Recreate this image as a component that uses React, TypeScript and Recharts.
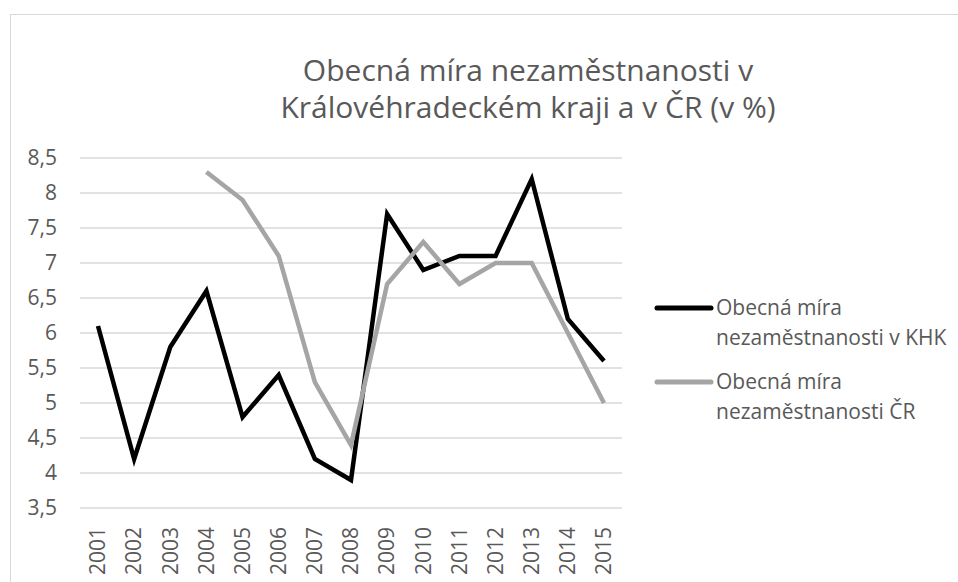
import { LineChart, Line, XAxis, YAxis, CartesianGrid, Legend } from "recharts";

const years = ["2001", "2002", "2003", "2004", "2005", "2006", "2007", "2008", "2009", "2010", "2011", "2012", "2013", "2014", "2015"];
const khk = [6.1, 4.2, 5.8, 6.6, 4.8, 5.4, 4.2, 3.9, 7.7, 6.9, 7.1, 7.1, 8.2, 6.2, 5.6];
const cr = [null, null, null, 8.3, 7.9, 7.1, 5.3, 4.4, 6.7, 7.3, 6.7, 7.0, 7.0, 6.0, 5.0];
const yTicks = [3.5, 4, 4.5, 5, 5.5, 6, 6.5, 7, 7.5, 8, 8.5];

const titleLines = ["Obecná míra nezaměstnanosti v", "Královéhradeckém kraji a v ČR (v %)"];
const seriesNames = ["Obecná míra nezaměstnanosti v KHK", "Obecná míra nezaměstnanosti ČR"];
const legendLines = [
  ["Obecná míra", "nezaměstnanosti v KHK"],
  ["Obecná míra", "nezaměstnanosti ČR"],
];
const colors = ["#000000", "#a5a5a5"];

const data = years.map((year, i) => ({ year, khk: khk[i], cr: cr[i] }));

const FONT = "'Open Sans', sans-serif";
const TEXT = "#595959";

function YearTick(props: any) {
  const { x, y, payload } = props;
  return (
    <text
      x={x}
      y={y}
      transform={`rotate(-90 ${x} ${y})`}
      textAnchor="end"
      dy="0.35em"
      fill={TEXT}
      fontSize={21}
      fontFamily={FONT}
    >
      {payload.value}
    </text>
  );
}

// legend drawn in a zero-height wrapper so it doesn't eat plot space
function LegendBox() {
  return (
    <svg width={300} height={150} style={{ overflow: "visible", position: "absolute", left: 0, top: 0 }}>
      {legendLines.map((lines, i) => (
        <g key={i}>
          <line x1={7} x2={61} y1={18 + i * 74} y2={18 + i * 74} stroke={colors[i]} strokeWidth={5} strokeLinecap="round" />
          {lines.map((t, j) => (
            <text key={j} x={66} y={18 + i * 74 + j * 30} dy="0.35em" fill={TEXT} fontSize={21} fontFamily={FONT}>
              {t}
            </text>
          ))}
        </g>
      ))}
    </svg>
  );
}

export default function App() {
  return (
    <div style={{ position: "absolute", left: 0, top: 0, width: 958, height: 582, background: "#fff", overflow: "hidden", fontFamily: FONT }}>
      <div style={{ position: "absolute", left: 10, top: 14, width: 980, height: 600, border: "1px solid #d9d9d9" }} />
      <svg width={958} height={140} style={{ position: "absolute", left: 0, top: 0 }}>
        {titleLines.map((t, i) => (
          <text key={i} x={528} y={70 + i * 37} dy="0.35em" textAnchor="middle" fill={TEXT} fontSize={30} fontFamily={FONT}>
            {t}
          </text>
        ))}
      </svg>
      <LineChart width={958} height={582} data={data} margin={{ top: 158, left: 0, right: 336, bottom: 0 }}>
        <CartesianGrid vertical={false} stroke="#d9d9d9" strokeWidth={1.3} />
        <XAxis
          dataKey="year"
          axisLine={false}
          tickLine={false}
          tickSize={0}
          tickMargin={19}
          tick={<YearTick />}
          interval={0}
          height={74}
          padding={{ left: 18, right: 18 }}
        />
        <YAxis
          width={80}
          domain={[3.5, 8.5]}
          ticks={yTicks}
          axisLine={false}
          tickLine={false}
          tickSize={0}
          tickMargin={23}
          interval={0}
          tickFormatter={(v: number) => String(v).replace(".", ",")}
          tick={{ fill: TEXT, fontSize: 21, fontFamily: FONT }}
        />
        <Legend
          content={<LegendBox />}
          wrapperStyle={{ left: 650, top: 290, width: 0, height: 0, overflow: "visible" }}
        />
        <Line dataKey="khk" name={seriesNames[0]} stroke={colors[0]} strokeWidth={4.5} dot={false} isAnimationActive={false} />
        <Line dataKey="cr" name={seriesNames[1]} stroke={colors[1]} strokeWidth={4.5} dot={false} isAnimationActive={false} />
      </LineChart>
    </div>
  );
}
